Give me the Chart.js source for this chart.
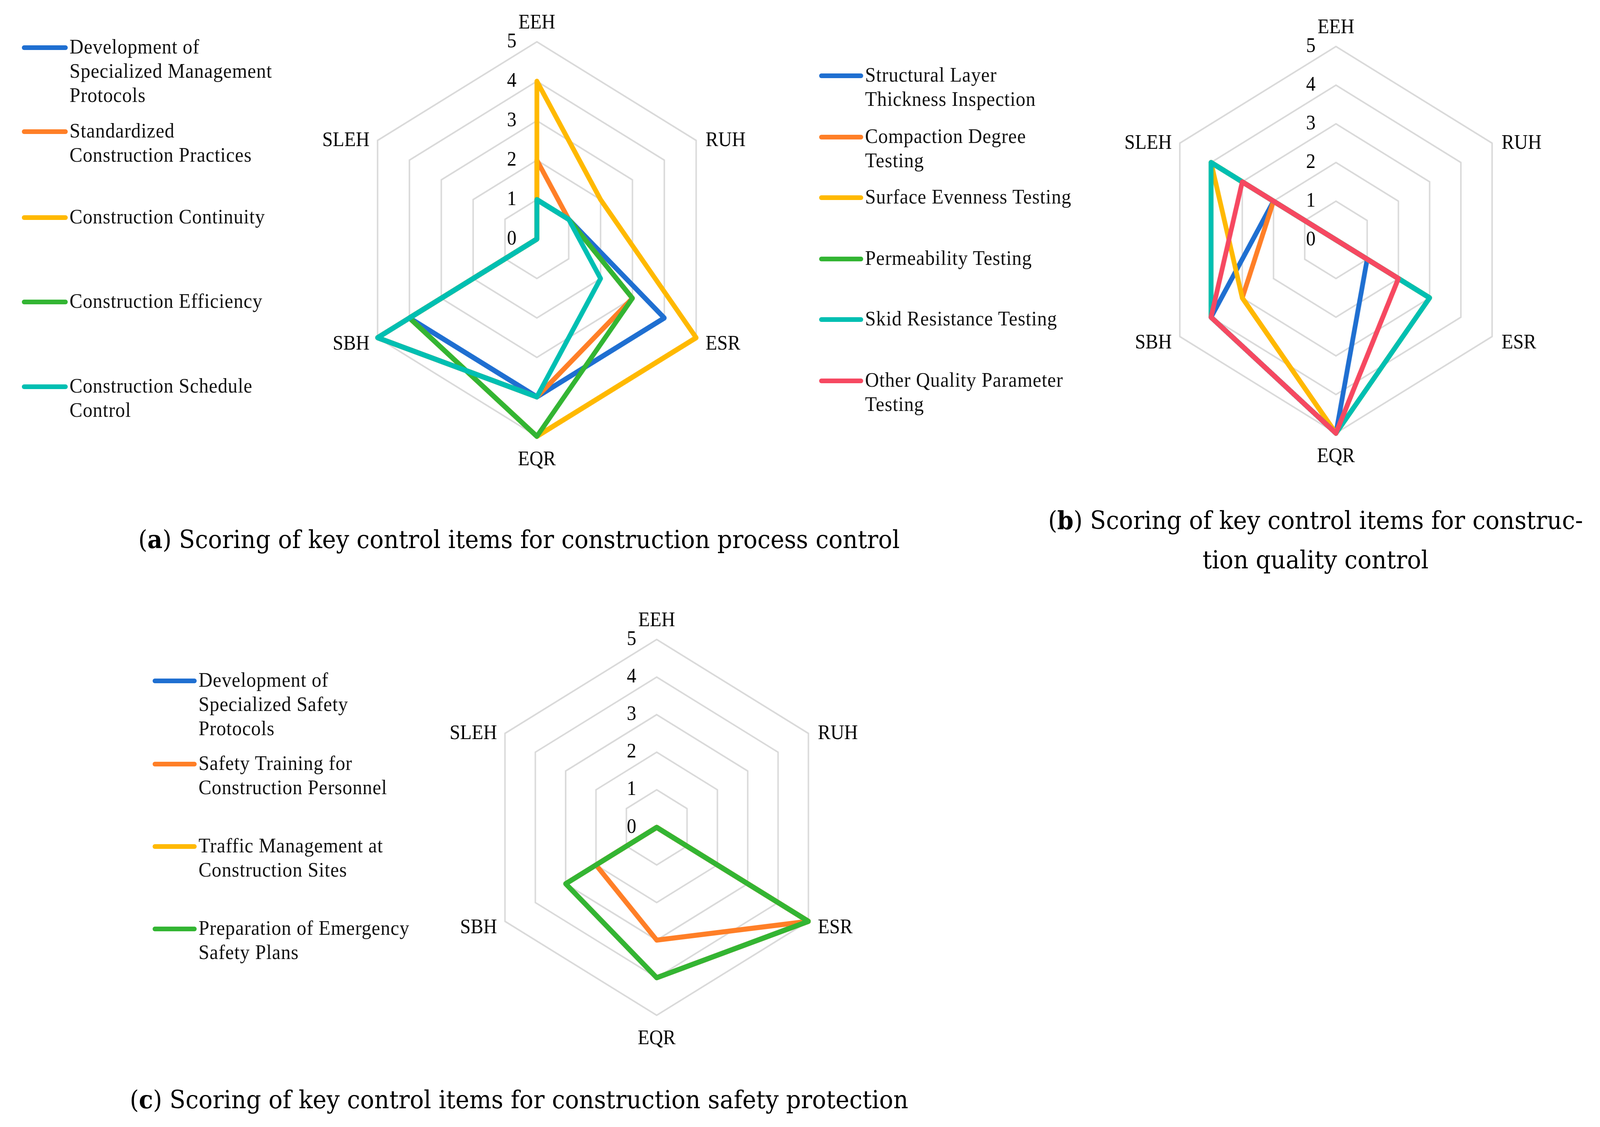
<!DOCTYPE html>
<html>
<head>
<meta charset="utf-8">
<script src="https://cdn.jsdelivr.net/npm/chart.js@4.4.0/dist/chart.umd.min.js"></script>
<style>
html, body { margin: 0; padding: 0; background: #fff; overflow: hidden; }
#page { position: absolute; left: 0; top: 0; width: 4393px; height: 2885px; transform-origin: 0 0; font-family: "Liberation Serif", serif; }
.box { position: absolute; width: 1400px; height: 1400px; }
.leg { position: absolute; font-size: 53px; line-height: 62px; color: #111; white-space: nowrap; letter-spacing: 1px; }
.swatch { position: absolute; height: 12px; border-radius: 6px; }
.cap { position: absolute; width: 2600px; font-family: "DejaVu Serif", serif; font-size: 64px; line-height: 101px; text-align: center; white-space: nowrap; color: #000; }
</style>
</head>
<body>
<div id="page">
<div class="box" id="boxA"><canvas id="chartA" width="1400" height="1400"></canvas></div>
<div class="box" id="boxB"><canvas id="chartB" width="1400" height="1400"></canvas></div>
<div class="box" id="boxC"><canvas id="chartC" width="1400" height="1400"></canvas></div>
</div>
<script>
var categories = ['EEH', 'RUH', 'ESR', 'EQR', 'SBH', 'SLEH'];
var tickValues = [0, 1, 2, 3, 4, 5];
var colors = ['#1f6fd1', '#ff7f27', '#ffb900', '#33b533', '#00bfb2', '#f64861'];

// (a) construction process control
var processNames = [
    ['Development of', 'Specialized Management', 'Protocols'],
    ['Standardized', 'Construction Practices'],
    ['Construction Continuity'],
    ['Construction Efficiency'],
    ['Construction Schedule', 'Control']
];
var processProtocols = [1, 1, 4, 4, 4, 0];
var processPractices = [2, 1, 3, 4, 5, 0];
var processContinuity = [4, 2, 5, 5, 4, 0];
var processEfficiency = [1, 1, 3, 5, 4, 0];
var processSchedule = [1, 1, 2, 4, 5, 0];

// (b) construction quality control
var qualityNames = [
    ['Structural Layer', 'Thickness Inspection'],
    ['Compaction Degree', 'Testing'],
    ['Surface Evenness Testing'],
    ['Permeability Testing'],
    ['Skid Resistance Testing'],
    ['Other Quality Parameter', 'Testing']
];
var qualityThickness = [0, 0, 1, 5, 4, 2];
var qualityCompaction = [0, 0, 2, 5, 3, 2];
var qualityEvenness = [0, 0, 3, 5, 3, 4];
var qualityPermeability = [0, 0, 3, 5, 4, 4];
var qualitySkid = [0, 0, 3, 5, 4, 4];
var qualityOther = [0, 0, 2, 5, 4, 3];

// (c) construction safety protection
var safetyNames = [
    ['Development of', 'Specialized Safety', 'Protocols'],
    ['Safety Training for', 'Construction Personnel'],
    ['Traffic Management at', 'Construction Sites'],
    ['Preparation of Emergency', 'Safety Plans']
];
var safetyProtocols = [0, 0, 5, 4, 3, 0];
var safetyTraining = [0, 0, 5, 3, 2, 0];
var safetyTraffic = [0, 0, 5, 4, 3, 0];
var safetyEmergency = [0, 0, 5, 4, 3, 0];

// the window may be narrower than the 4393 px layout, so stretch the page to fill it
var page = document.getElementById('page');
page.style.transform = 'scale(' + (window.innerWidth / 4393) + ',' + (window.innerHeight / 2885) + ')';

var hexLabels = {
    id: 'hexLabels',
    afterDraw: function (chart) {
        var r = chart.scales.r;
        var ctx = chart.ctx;
        ctx.save();
        ctx.fillStyle = '#000';
        ctx.font = '52px "Liberation Serif"';
        ctx.textAlign = 'right';
        ctx.textBaseline = 'middle';
        tickValues.forEach(function (v) {
            ctx.fillText(String(v), r.xCenter - 56, r.yCenter - r.getDistanceFromCenterForValue(v));
        });
        ctx.textBaseline = 'alphabetic';
        categories.forEach(function (lab, i) {
            var p = r.getPointPosition(i, r.drawingArea);
            if (i === 0) { ctx.textAlign = 'center'; ctx.fillText(lab, p.x, p.y - 34); }
            else if (i === 3) { ctx.textAlign = 'center'; ctx.fillText(lab, p.x, p.y + 74); }
            else if (i === 1 || i === 2) { ctx.textAlign = 'left'; ctx.fillText(lab, p.x + 26, p.y + (i === 1 ? 14 : 30)); }
            else { ctx.textAlign = 'right'; ctx.fillText(lab, p.x - 22, p.y + (i === 5 ? 14 : 30)); }
        });
        ctx.restore();
    }
};

function makeRadar(id, series, cx, cy, R) {
    var box = document.getElementById('box' + id);
    box.style.left = (cx - 700) + 'px';
    box.style.top = (cy - 700) + 'px';
    var datasets = series.map(function (s, i) {
        return {
            data: s,
            borderColor: colors[i],
            backgroundColor: colors[i],
            borderWidth: 13,
            borderJoinStyle: 'round',
            borderCapStyle: 'round',
            pointRadius: 0,
            fill: false,
            clip: false,
            order: -i
        };
    });
    return new Chart(document.getElementById('chart' + id), {
        type: 'radar',
        data: { labels: categories, datasets: datasets },
        options: {
            responsive: false,
            animation: false,
            layout: { padding: 700 - R },
            elements: { line: { tension: 0 } },
            plugins: { legend: { display: false }, tooltip: { enabled: false } },
            scales: {
                r: {
                    min: 0,
                    max: 5,
                    ticks: { display: false, stepSize: 1 },
                    pointLabels: { display: false },
                    angleLines: { display: false },
                    grid: { color: '#d9d9d9', lineWidth: 4 }
                }
            }
        },
        plugins: [hexLabels]
    });
}

function makeLegend(names, x0, x1, ys) {
    names.forEach(function (lines, i) {
        var sw = document.createElement('div');
        sw.className = 'swatch';
        sw.style.left = x0 + 'px';
        sw.style.width = (x1 - x0) + 'px';
        sw.style.top = (ys[i] - 6) + 'px';
        sw.style.background = colors[i];
        page.appendChild(sw);
        var t = document.createElement('div');
        t.className = 'leg';
        t.style.left = (x1 + 5) + 'px';
        t.style.top = (ys[i] - 34) + 'px';
        t.innerHTML = lines.join('<br>');
        page.appendChild(t);
    });
}

function makeCaption(letter, lines, cx, top) {
    var d = document.createElement('div');
    d.className = 'cap';
    d.style.left = (cx - 1300) + 'px';
    d.style.top = top + 'px';
    d.innerHTML = lines.map(function (l, i) {
        return i === 0 ? '(<b>' + letter + '</b>) ' + l : l;
    }).join('<br>');
    page.appendChild(d);
}

makeRadar('A', [processProtocols, processPractices, processContinuity, processEfficiency, processSchedule], 1474, 612, 505);
makeRadar('B', [qualityThickness, qualityCompaction, qualityEvenness, qualityPermeability, qualitySkid, qualityOther], 3668, 614, 495);
makeRadar('C', [safetyProtocols, safetyTraining, safetyTraffic, safetyEmergency], 1803, 2118, 481);

makeLegend(processNames, 60, 186, [122, 337, 557, 773, 990]);
makeLegend(qualityNames, 2249, 2370, [194, 351, 506, 663, 818, 975]);
makeLegend(safetyNames, 419, 540, [1743, 1956, 2167, 2378]);

makeCaption('a', ['Scoring of key control items for construction process control'], 1425, 1330);
makeCaption('b', ['Scoring of key control items for construc-', 'tion quality control'], 3612, 1281);
makeCaption('c', ['Scoring of key control items for construction safety protection'], 1425, 2764);
</script>
</body>
</html>
